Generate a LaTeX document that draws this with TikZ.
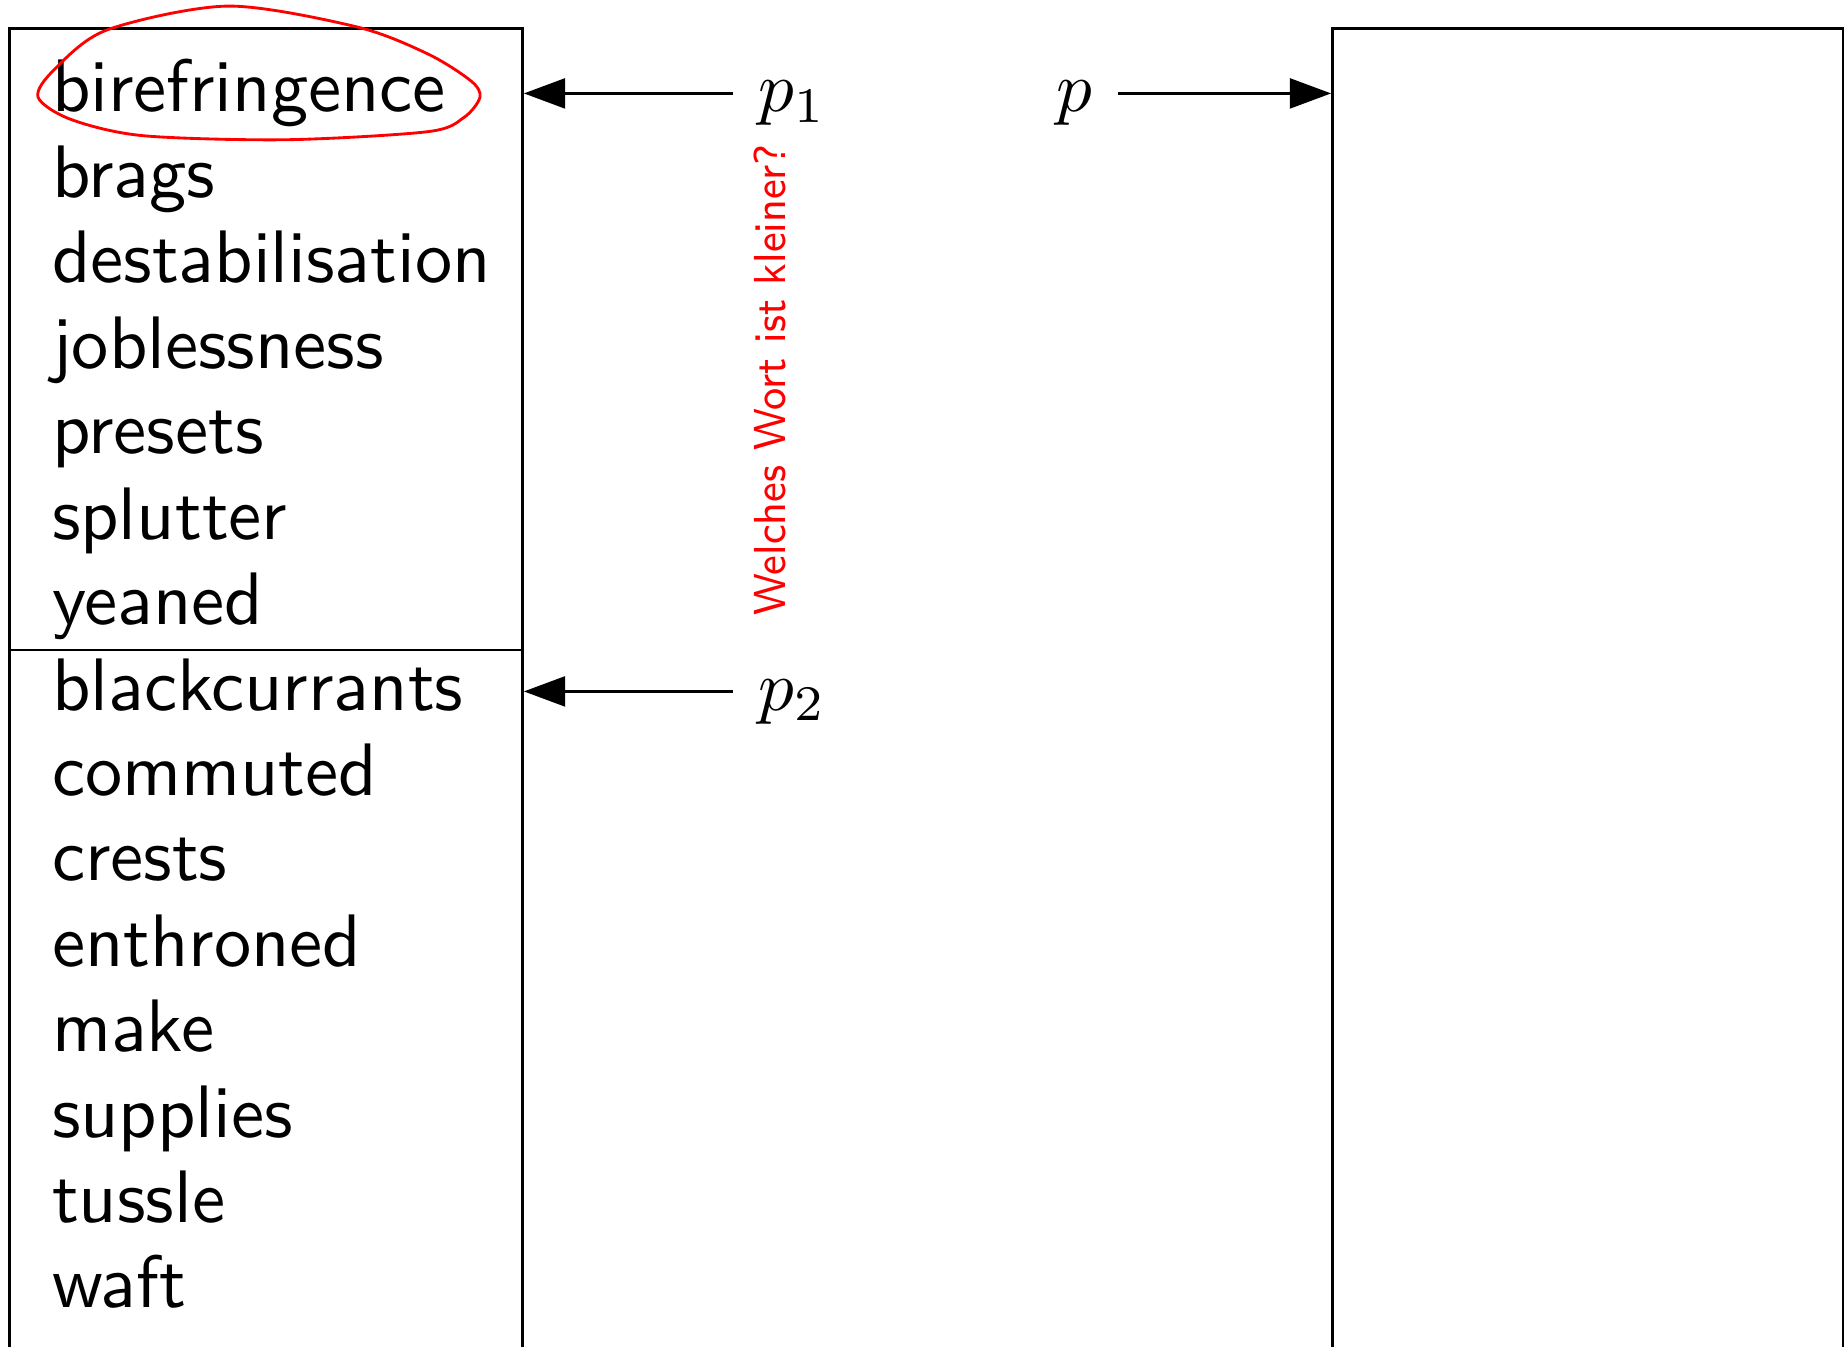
\documentclass[tikz,border=0pt]{standalone}
\usepackage{amsmath,amssymb}
\usepackage{tikz}
\usepackage{xcolor}
\usetikzlibrary{arrows.meta}

\begin{document}
\begin{tikzpicture}[
    word/.style={anchor=base west,inner sep=0pt,text height=7.25pt,text depth=2.03pt,font=\sffamily\fontsize{10.45}{12}\selectfont},
    lbl/.style={anchor=base west},
    arr/.style={-{Triangle[length=5.8pt,width=4.2pt]}}
  ]
    \useasboundingbox (0,0) rectangle (9.106,-6.647);

    % Lists
    \node[draw,anchor=north west,minimum width=2.533cm,minimum height=7cm] (list) at (0.04,-0.133) {};
    \node[draw,anchor=north west,minimum width=2.523cm,minimum height=7cm] (out) at (6.573,-0.133) {};
    \draw (0.04,-3.21) -- (2.573,-3.21);

    % First half
    \node[word] (bire) at (0.250,-0.553) {birefringence};
    \node[word] (brags) at (0.250,-0.975) {brags};
    \node[word] (destab) at (0.250,-1.397) {destabilisation};
    \node[word] (jobless) at (0.250,-1.818) {joblessness};
    \node[word] (presets) at (0.250,-2.240) {presets};
    \node[word] (splutter) at (0.250,-2.662) {splutter};
    \node[word] (yeaned) at (0.250,-3.084) {yeaned};

    % Second half
    \node[word] (black) at (0.250,-3.506) {blackcurrants};
    \node[word] (commuted) at (0.250,-3.927) {commuted};
    \node[word] (crests) at (0.250,-4.349) {crests};
    \node[word] (enthroned) at (0.250,-4.771) {enthroned};
    \node[word] (make) at (0.250,-5.193) {make};
    \node[word] (supplies) at (0.250,-5.615) {supplies};
    \node[word] (tussle) at (0.250,-6.036) {tussle};
    \node[word] (waft) at (0.250,-6.458) {waft};

    % Pointers
    \node[lbl] (p1) at (3.62,-0.553) {$p_1$};
    \node[lbl] (p2) at (3.62,-3.506) {$p_2$};
    \node[lbl] (p) at (5.095,-0.553) {$p$};
    \draw[arr] (p1.west |- bire) -- (list.east |- bire);
    \draw[arr] (p2.west |- black) -- (list.east |- black);
    \draw[arr] (p.east |- bire) -- (out.west |- bire);

    % Question
    \node[red,rotate=90,xscale=0.93,anchor=base west,inner sep=0pt,font=\sffamily\fontsize{6.3}{7}\selectfont] (question) at (3.877,-3.047) {Welches Wort ist kleiner?};
    \draw[red] plot[smooth cycle] coordinates {(0.188,-0.480) (0.267,-0.345) (0.528,-0.148) (1.126,-0.030) (1.763,-0.133) (2.114,-0.267) (2.326,-0.400) (2.370,-0.480) (2.291,-0.580) (2.114,-0.650) (1.412,-0.690) (0.706,-0.670) (0.351,-0.590)};
\end{tikzpicture}
\end{document}
